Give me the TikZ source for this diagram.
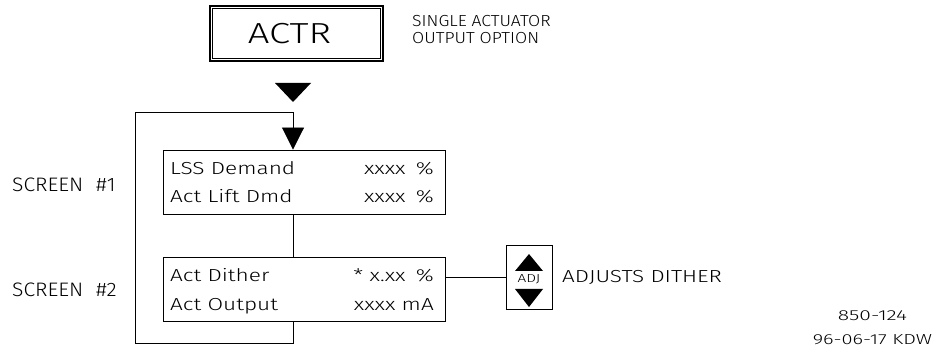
\documentclass[tikz,border=0pt]{standalone}
\usepackage{fontspec}
\setmainfont{Fira Sans Light}
\usepackage{tikz}
\usetikzlibrary{arrows.meta, positioning, calc}

\newcommand{\cadfont}[2]{\fontsize{#1}{#1}\selectfont\addfontfeature{FakeStretch=#2}}

\begin{document}
\begin{tikzpicture}[
    x=1pt, y=-1pt,
    panel/.style={draw, line width=0.9pt, minimum width=282pt, minimum height=64pt, inner sep=0pt},
    lcdtext/.style={font=\cadfont{17.4}{1.3}, inner sep=0pt},
    notetext/.style={font=\cadfont{16}{1.1}, inner sep=0pt, anchor=base west},
    wire/.style={line width=0.9pt}
]
\useasboundingbox (0,0) rectangle (936,352);

% Mode box
\node[draw, line width=2.6pt, minimum width=173pt, minimum height=55pt, inner sep=0pt,
      font=\cadfont{29}{1.32}] (actr) at (296.5,33.5) {ACTR\hspace*{14pt}};
\draw[line width=0.7pt] ([shift={(3.5,3.5)}]actr.north west) rectangle ([shift={(-3.5,-3.5)}]actr.south east);
\node[notetext] (opt1) at (412,27) {SINGLE ACTUATOR};
\node[notetext] (opt2) at (412,44) {OUTPUT OPTION};
\fill (275,83) -- (311,83) -- (293,102) -- cycle;

% Screens
\node[panel] (scr1) at (304,182) {};
\node[panel] (scr2) at (304,289) {};
\node[lcdtext, anchor=base west] (s1a) at (170,175) {LSS Demand};
\node[lcdtext, anchor=base west] (s1b) at (170,203) {Act Lift Dmd};
\node[lcdtext, anchor=base east] (s1c) at (434,175) {xxxx\hspace{4pt} \%};
\node[lcdtext, anchor=base east] (s1d) at (434,203) {xxxx\hspace{4pt} \%};
\node[lcdtext, anchor=base west] (s2a) at (170,282) {Act Dither};
\node[lcdtext, anchor=base west] (s2b) at (170,310) {Act Output};
\node[lcdtext, anchor=base east] (s2c) at (434,282) {* x.xx\hspace{4pt} \%};
\node[lcdtext, anchor=base east] (s2d) at (434,310) {xxxx mA};

\node[font=\cadfont{19.5}{1.08}, inner sep=0pt, anchor=base west] (lab1) at (12,192) {SCREEN\hspace{7pt} \#1};
\node[font=\cadfont{19.5}{1.08}, inner sep=0pt, anchor=base west] (lab2) at (12,297) {SCREEN\hspace{7pt} \#2};

% Loop
\coordinate (top) at (293,112);
\coordinate (bot) at (293,343);
\draw[wire] (scr1.south -| top) -- (scr2.north -| top);
\draw[wire, -{Triangle[width=22pt, length=22pt]}] (scr2.south -| bot) -- (bot) -- (135,343) -- (135,112) -- (top) -- (scr1.north -| top);

% Adjust key
\node[draw, line width=0.9pt, minimum width=46pt, minimum height=64pt, inner sep=0pt] (adj) at (529,277) {};
\fill (515,271) -- (543,271) -- (529,254) -- cycle;
\fill (515,289) -- (543,289) -- (529,307) -- cycle;
\node[font=\cadfont{11.6}{1.33}, inner sep=0pt] (adjt) at (529,279) {ADJ};
\draw[wire] (scr2.east |- adj.west) -- (adj.west);
\node[font=\cadfont{17.4}{1.29}, inner sep=0pt, anchor=base west] (adjl) at (562,283) {ADJUSTS DITHER};

% Drawing number
\node[font=\cadfont{14.5}{1.45}, inner sep=0pt, anchor=base] (dwg1) at (872.5,320) {850-124};
\node[font=\cadfont{14.5}{1.38}, inner sep=0pt, anchor=base] (dwg2) at (872.5,344) {96-06-17 KDW};
\end{tikzpicture}
\end{document}
